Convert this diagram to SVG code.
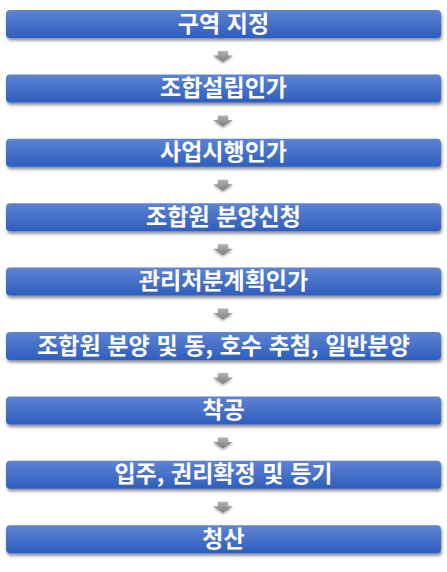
<svg xmlns="http://www.w3.org/2000/svg" width="447" height="572" viewBox="0 0 447 572">
<defs>
  <linearGradient id="barGrad" x1="0" y1="0" x2="0" y2="1">
    <stop offset="0" stop-color="#5d84d3"/>
    <stop offset="1" stop-color="#2f5dbd"/>
  </linearGradient>
  <linearGradient id="arrGrad" x1="0" y1="0" x2="0" y2="1">
    <stop offset="0" stop-color="#b4b4b4"/>
    <stop offset="1" stop-color="#7c7c7c"/>
  </linearGradient>
  <filter id="shadow" x="-5%" y="-30%" width="110%" height="170%">
    <feDropShadow dx="1" dy="2.5" stdDeviation="1.5" flood-color="#000" flood-opacity="0.45"/>
  </filter>
  <filter id="ashadow" x="-50%" y="-50%" width="200%" height="200%">
    <feDropShadow dx="0" dy="1.5" stdDeviation="1.2" flood-color="#000" flood-opacity="0.35"/>
  </filter>
  <path id="arrow" d="M-5,0 H5 V4.5 H10 L0,11 L-10,4.5 H-5 Z"/>
</defs>
<style>
  .bar { fill: url(#barGrad); filter: url(#shadow); }
  .lbl { fill: #ffffff; font-family: "Noto Sans CJK KR", "Noto Sans", sans-serif; font-weight: bold; font-size: 23px; word-spacing: 1.5px; text-anchor: middle; }
  .arr { fill: url(#arrGrad); filter: url(#ashadow); }
</style>
<g id="connectors">
  <use href="#arrow" class="arr" x="223" y="51"/>
  <use href="#arrow" class="arr" x="223" y="115.4"/>
  <use href="#arrow" class="arr" x="223" y="179.8"/>
  <use href="#arrow" class="arr" x="223" y="244.2"/>
  <use href="#arrow" class="arr" x="223" y="308.6"/>
  <use href="#arrow" class="arr" x="223" y="373"/>
  <use href="#arrow" class="arr" x="223" y="437.4"/>
  <use href="#arrow" class="arr" x="223" y="501.8"/>
</g>
<g id="node1"><rect class="bar" x="6" y="10" width="435" height="28" rx="4"/><text class="lbl" x="223.5" y="31.5">구역 지정</text></g>
<g id="node2"><rect class="bar" x="6" y="74.4" width="435" height="28" rx="4"/><text class="lbl" x="223.5" y="95.9">조합설립인가</text></g>
<g id="node3"><rect class="bar" x="6" y="138.8" width="435" height="28" rx="4"/><text class="lbl" x="223.5" y="160.3">사업시행인가</text></g>
<g id="node4"><rect class="bar" x="6" y="203.2" width="435" height="28" rx="4"/><text class="lbl" x="223.5" y="224.7">조합원 분양신청</text></g>
<g id="node5"><rect class="bar" x="6" y="267.6" width="435" height="28" rx="4"/><text class="lbl" x="223.5" y="289.1">관리처분계획인가</text></g>
<g id="node6"><rect class="bar" x="6" y="332" width="435" height="28" rx="4"/><text class="lbl" x="223.5" y="353.5">조합원 분양 및 동, 호수 추첨, 일반분양</text></g>
<g id="node7"><rect class="bar" x="6" y="396.4" width="435" height="28" rx="4"/><text class="lbl" x="223.5" y="417.9">착공</text></g>
<g id="node8"><rect class="bar" x="6" y="460.8" width="435" height="28" rx="4"/><text class="lbl" x="223.5" y="482.3">입주, 권리확정 및 등기</text></g>
<g id="node9"><rect class="bar" x="6" y="525.2" width="435" height="28" rx="4"/><text class="lbl" x="223.5" y="546.7">청산</text></g>
</svg>
